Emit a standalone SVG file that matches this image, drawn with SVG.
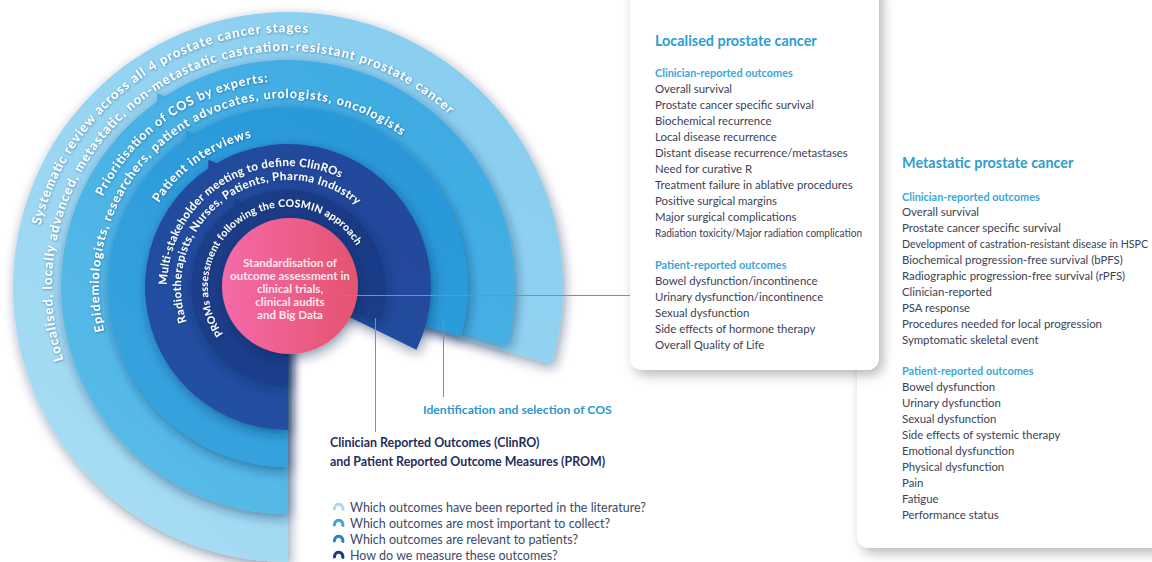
<svg xmlns="http://www.w3.org/2000/svg" xmlns:xlink="http://www.w3.org/1999/xlink" width="1152" height="562" viewBox="0 0 1152 562">
<style>
.rt{font-family:Lato,"Open Sans",sans-serif;font-weight:700;fill:#ffffff}
.ct{font-family:Lato,"Open Sans",sans-serif;font-weight:700;fill:#fde6ee;font-size:11.6px;text-anchor:middle}
.ttl{font-family:Lato,"Open Sans",sans-serif;font-weight:700;fill:#2e9dd1;font-size:14.4px}
.sub{font-family:Lato,"Open Sans",sans-serif;font-weight:700;fill:#3aa7d7;font-size:10.9px}
.itm{font-family:Lato,"Open Sans",sans-serif;font-weight:400;fill:#3b4256;font-size:11.4px}
.bt{font-family:Lato,"Open Sans",sans-serif;font-weight:700;fill:#1f2d5c;font-size:12.4px}
.idt{font-family:Lato,"Open Sans",sans-serif;font-weight:700;fill:#2b96cf;font-size:12.2px}
.q{font-family:Lato,"Open Sans",sans-serif;font-weight:400;fill:#3b4a68;font-size:12.5px}
.ln{stroke:#8c8c8c;stroke-width:1;fill:none}
.card{fill:#ffffff}
.ic{fill:none;stroke-width:3;stroke-linecap:butt}
</style>
<defs>
<filter id="rs" x="-20%" y="-20%" width="140%" height="140%">
<feGaussianBlur in="SourceAlpha" stdDeviation="6"/>
<feOffset dx="2" dy="4" result="b"/>
<feFlood flood-color="#0a2350" flood-opacity="0.45"/>
<feComposite in2="b" operator="in"/>
<feMerge><feMergeNode/><feMergeNode in="SourceGraphic"/></feMerge>
</filter>
<filter id="cs" x="-20%" y="-10%" width="140%" height="130%">
<feDropShadow dx="4" dy="5" stdDeviation="6" flood-color="#000000" flood-opacity="0.28"/>
</filter>
<filter id="ts" x="-5%" y="-20%" width="110%" height="140%">
<feDropShadow dx="0.6" dy="0.8" stdDeviation="0.8" flood-color="#0a2350" flood-opacity="0.45"/>
</filter>
<linearGradient id="g1" gradientUnits="userSpaceOnUse" x1="500" y1="40" x2="80" y2="540"><stop offset="0" stop-color="#86cdef"/><stop offset="1" stop-color="#a9ddf4"/></linearGradient>
<linearGradient id="g2" gradientUnits="userSpaceOnUse" x1="500" y1="40" x2="80" y2="540"><stop offset="0" stop-color="#39a8e1"/><stop offset="1" stop-color="#5dbeea"/></linearGradient>
<linearGradient id="g3" gradientUnits="userSpaceOnUse" x1="500" y1="40" x2="80" y2="540"><stop offset="0" stop-color="#2393d7"/><stop offset="1" stop-color="#3ba7e0"/></linearGradient>
<linearGradient id="g4" gradientUnits="userSpaceOnUse" x1="500" y1="40" x2="80" y2="540"><stop offset="0" stop-color="#1e4596"/><stop offset="1" stop-color="#2453a6"/></linearGradient>
<linearGradient id="g5" gradientUnits="userSpaceOnUse" x1="500" y1="40" x2="80" y2="540"><stop offset="0" stop-color="#183882"/><stop offset="1" stop-color="#1c418d"/></linearGradient>
<linearGradient id="gp" x1="0" y1="0" x2="1" y2="0"><stop offset="0" stop-color="#f56aa9"/><stop offset="1" stop-color="#e4536e"/></linearGradient>
<path id="pA" d="M40.6,225.3 A255,255 0 0 1 354.0,40.7"/>
<path id="pB" d="M63.5,359.9 A236,236 0 0 1 481.3,151.6"/>
<path id="pC" d="M102.8,196.7 A206,206 0 0 1 306.0,81.8"/>
<path id="pD" d="M104.2,331.1 A189,189 0 0 1 432.8,165.5"/>
<path id="pE" d="M158.8,203.1 A154,154 0 0 1 274.6,133.6"/>
<path id="pF" d="M167.0,284.9 A121,121 0 0 1 357.4,187.9"/>
<path id="pG" d="M186.8,321.8 A107,107 0 0 1 367.5,215.4"/>
<path id="pH" d="M223.3,334.0 A80,80 0 1 1 360.5,253.2"/>
</defs>
<rect width="1152" height="562" fill="#ffffff"/>

<g id="card-metastatic">
<rect class="card" x="857" y="-20" width="330" height="568" rx="12" filter="url(#cs)"/>
<text class="ttl" x="902" y="168">Metastatic prostate cancer</text>
<text class="sub" x="902" y="201">Clinician-reported outcomes</text>
<text class="itm"><tspan x="902" y="216">Overall survival</tspan><tspan x="902" y="232">Prostate cancer specific survival</tspan><tspan x="902" y="248" textLength="246" lengthAdjust="spacingAndGlyphs">Development of castration-resistant disease in HSPC</tspan><tspan x="902" y="264">Biochemical progression-free survival (bPFS)</tspan><tspan x="902" y="280">Radiographic progression-free survival (rPFS)</tspan><tspan x="902" y="296">Clinician-reported</tspan><tspan x="902" y="312">PSA response</tspan><tspan x="902" y="328">Procedures needed for local progression</tspan><tspan x="902" y="344">Symptomatic skeletal event</tspan></text>
<text class="sub" x="902" y="375">Patient-reported outcomes</text>
<text class="itm"><tspan x="902" y="391">Bowel dysfunction</tspan><tspan x="902" y="407">Urinary dysfunction</tspan><tspan x="902" y="423">Sexual dysfunction</tspan><tspan x="902" y="439">Side effects of systemic therapy</tspan><tspan x="902" y="455">Emotional dysfunction</tspan><tspan x="902" y="471">Physical dysfunction</tspan><tspan x="902" y="487">Pain</tspan><tspan x="902" y="503">Fatigue</tspan><tspan x="902" y="519">Performance status</tspan></text>
</g>

<g id="card-localised">
<rect class="card" x="630" y="-20" width="249" height="390" rx="12" filter="url(#cs)"/>
<text class="ttl" x="655" y="46">Localised prostate cancer</text>
<text class="sub" x="655" y="77">Clinician-reported outcomes</text>
<text class="itm"><tspan x="655" y="93">Overall survival</tspan><tspan x="655" y="109">Prostate cancer specific survival</tspan><tspan x="655" y="125">Biochemical recurrence</tspan><tspan x="655" y="141">Local disease recurrence</tspan><tspan x="655" y="157">Distant disease recurrence/metastases</tspan><tspan x="655" y="173">Need for curative R</tspan><tspan x="655" y="189">Treatment failure in ablative procedures</tspan><tspan x="655" y="205">Positive surgical margins</tspan><tspan x="655" y="221">Major surgical complications</tspan><tspan x="655" y="237" textLength="207" lengthAdjust="spacingAndGlyphs">Radiation toxicity/Major radiation complication</tspan></text>
<text class="sub" x="655" y="269">Patient-reported outcomes</text>
<text class="itm"><tspan x="655" y="285">Bowel dysfunction/incontinence</tspan><tspan x="655" y="301">Urinary dysfunction/incontinence</tspan><tspan x="655" y="317">Sexual dysfunction</tspan><tspan x="655" y="333">Side effects of hormone therapy</tspan><tspan x="655" y="349">Overall Quality of Life</tspan></text>
</g>

<g id="ring-1">
<g filter="url(#rs)"><path d="M288,287 L288,562 A275,275 0 1 1 551.8,364.6 Z" fill="url(#g1)"/></g>
<g filter="url(#ts)"><text class="rt" font-size="13"><textPath href="#pA" xlink:href="#pA" textLength="358">Systematic review across all 4 prostate cancer stages</textPath></text>
<text class="rt" font-size="13"><textPath href="#pB" xlink:href="#pB" textLength="622">Localised, locally advanced, metastatic, non-metastatic castration-resistant prostate cancer</textPath></text></g>
</g>
<g id="ring-2">
<g filter="url(#rs)"><path d="M288,287 L288,514 A227,227 0 1 1 507.3,345.7 Z" fill="url(#g2)"/><polygon points="-7,3 0,-7 7,3" fill="#45aee4" transform="translate(288 287) rotate(-34) translate(0 -227)"/></g>
<g filter="url(#ts)"><text class="rt" font-size="12.5"><textPath href="#pC" xlink:href="#pC" textLength="210">Prioritisation of COS by experts:</textPath></text>
<text class="rt" font-size="12.5"><textPath href="#pD" xlink:href="#pD" textLength="463">Epidemiologists, researchers, patient advocates, urologists, oncologists</textPath></text></g>
</g>
<g id="ring-3">
<g filter="url(#rs)"><path d="M288,287 L288,467 A180,180 0 1 1 461.0,336.6 Z" fill="url(#g3)"/><polygon points="-7,3 0,-7 7,3" fill="#2b9ad9" transform="translate(288 287) rotate(-33) translate(0 -180)"/></g>
<g filter="url(#ts)"><text class="rt" font-size="12.5"><textPath href="#pE" xlink:href="#pE" textLength="116">Patient interviews</textPath></text></g>
</g>
<g id="ring-4">
<g filter="url(#rs)"><path d="M288,287 L288,430 A143,143 0 1 1 416.5,349.7 Z" fill="url(#g4)"/><polygon points="-7,3 0,-7 7,3" fill="#204a9a" transform="translate(288 287) rotate(-32) translate(0 -143)"/></g>
<g filter="url(#ts)"><text class="rt" font-size="11.5"><textPath href="#pF" xlink:href="#pF" textLength="242">Multi-stakeholder meeting to define ClinROs</textPath></text>
<text class="rt" font-size="11.5"><textPath href="#pG" xlink:href="#pG" textLength="278">Radiotherapists, Nurses, Patients, Pharma Industry</textPath></text></g>
</g>
<g id="ring-5">
<g filter="url(#rs)"><path d="M288,287 L288,384 A97,97 0 1 1 379.2,320.2 Z" fill="url(#g5)"/><polygon points="-6,3 0,-6 6,3" fill="#1a3c86" transform="translate(288 287) rotate(-31) translate(0 -97)"/></g>
<g filter="url(#ts)"><text class="rt" font-size="10.5"><textPath href="#pH" xlink:href="#pH" textLength="258">PROMs assessment following the COSMIN approach</textPath></text></g>
</g>
<g id="center">
<circle cx="290" cy="286" r="68" fill="url(#gp)" filter="url(#rs)"/>
<text class="ct"><tspan x="290" y="267">Standardisation of</tspan><tspan x="290" y="280">outcome assessment in</tspan><tspan x="290" y="293">clinical trials,</tspan><tspan x="290" y="306">clinical audits</tspan><tspan x="290" y="319">and Big Data</tspan></text>
</g>

<g id="connectors">
<line class="ln" x1="340" y1="295.5" x2="630" y2="295.5"/>
<line class="ln" x1="375.5" y1="318" x2="375.5" y2="432"/>
<line class="ln" x1="443.5" y1="320" x2="443.5" y2="397"/>
</g>

<g id="label-cos">
<text class="idt" x="423" y="414">Identification and selection of COS</text>
</g>
<g id="label-clinro">
<text class="bt"><tspan x="330" y="447">Clinician Reported Outcomes (ClinRO)</tspan><tspan x="330" y="466">and Patient Reported Outcome Measures (PROM)</tspan></text>
</g>
<g id="questions">
<path class="ic" stroke="#a9dcf2" d="M334.8,510.1 A4.2,4.2 0 1 1 342.3,510.6"/>
<path class="ic" stroke="#3aa6dc" d="M334.8,526.1 A4.2,4.2 0 1 1 342.3,526.6"/>
<path class="ic" stroke="#2784c4" d="M334.8,542.1 A4.2,4.2 0 1 1 342.3,542.6"/>
<path class="ic" stroke="#1b3a7a" d="M334.8,558.1 A4.2,4.2 0 1 1 342.3,558.6"/>
<text class="q"><tspan x="350" y="512">Which outcomes have been reported in the literature?</tspan><tspan x="350" y="528">Which outcomes are most important to collect?</tspan><tspan x="350" y="544">Which outcomes are relevant to patients?</tspan><tspan x="350" y="560">How do we measure these outcomes?</tspan></text>
</g>
</svg>
